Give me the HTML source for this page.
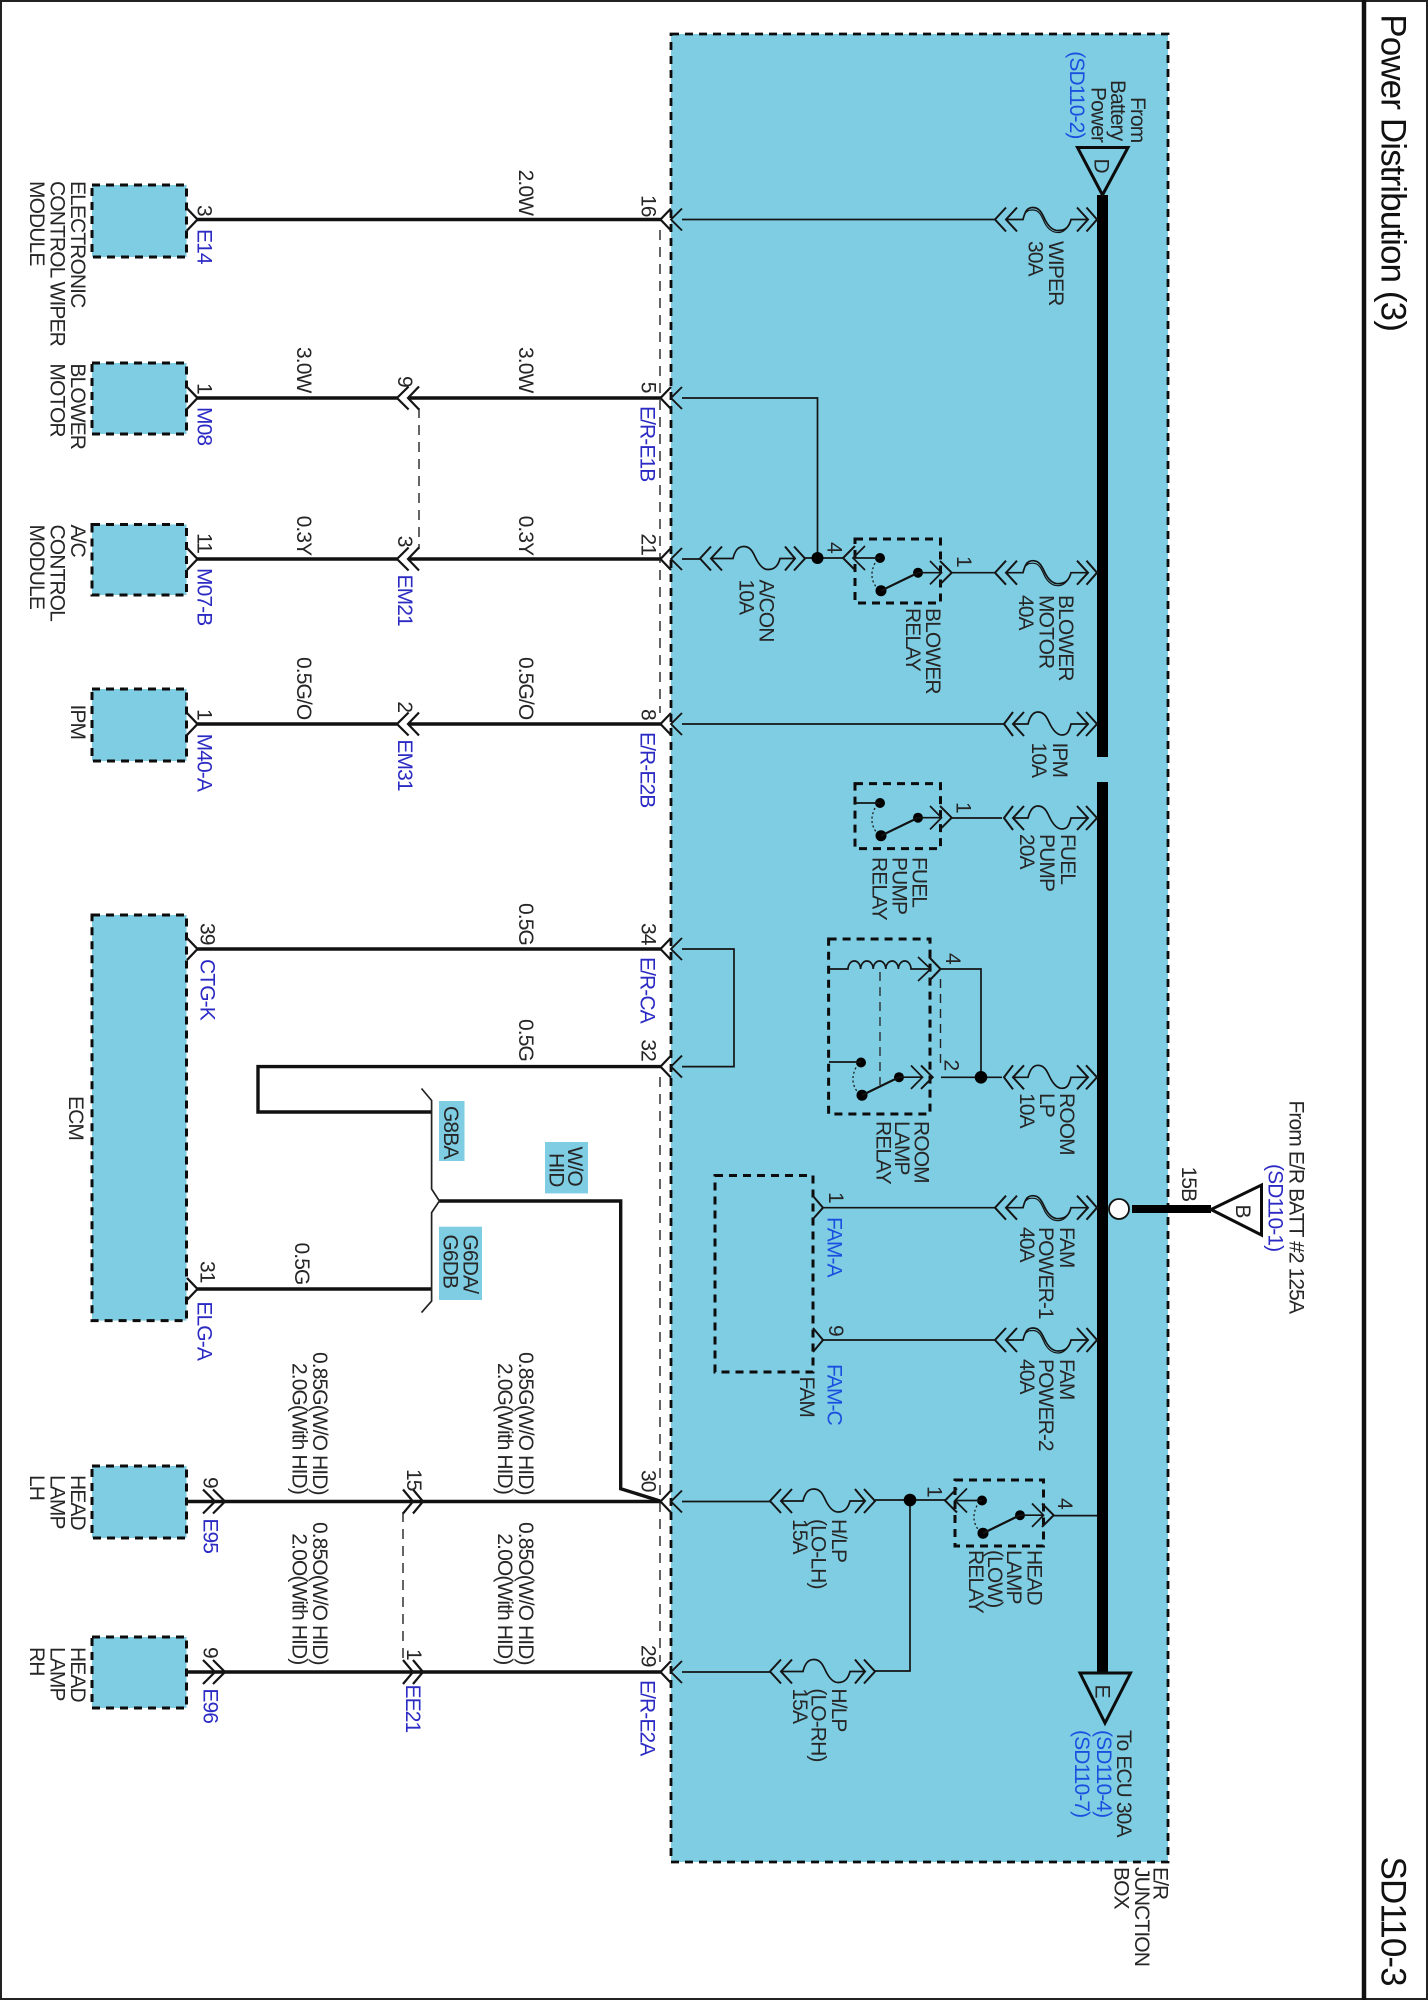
<!DOCTYPE html>
<html><head><meta charset="utf-8"><title>Power Distribution (3)</title>
<style>
html,body{margin:0;padding:0;background:#fff}
svg{display:block}
text{font-family:"Liberation Sans",sans-serif;font-size:21px;letter-spacing:-0.9px;fill:#262626}
.b{fill:#2b2bc4}.c{fill:#1a4fe0}
text.T{font-size:35px;letter-spacing:-0.9px;fill:#111}
.k{fill:none;stroke:#141414;stroke-width:1.7}
.h{fill:none;stroke:#111;stroke-width:3.4}
.d{fill:none;stroke:#222;stroke-width:1.4;stroke-dasharray:10 7}
.x{fill:#7ecde3;stroke:#0c0c0c;stroke-width:3;stroke-dasharray:8 6}
</style></head><body>
<svg width="1428" height="2000" viewBox="0 0 1428 2000" xmlns="http://www.w3.org/2000/svg">
<defs>
<g id="jr" class="k"><path d="M671,-11L660.5,0L671,11" stroke-width="2.2"/><path d="M682,-11L671,0L682,11" stroke-width="1.9"/></g>
<g id="cl" class="k"><path d="M408.6,-11.5L397,0L408.6,11.5" stroke-width="2.2"/><path d="M419,-11.5L408,0L419,11.5" stroke-width="2.2"/></g>
<g id="cr" class="k"><path d="M403,-12L413,0L403,12" stroke-width="2.2"/><path d="M413,-12L423,0L413,12" stroke-width="2.2"/></g>
<path id="lp" class="k" style="stroke-width:2.3" d="M187,-11L197.5,0L187,11"/>
<path id="hr" class="k" style="stroke-width:2.2" d="M203,-12L215,0L203,12M213,-12L225,0L213,12"/>
<g id="fb" class="k"><path d="M11,-12L0,0L11,12M22,-12L11,0L22,12M82,-12L93,0L82,12M91.5,-12L102,0L91.5,12" stroke-width="2"/><path d="M11,0H28C30,-8 32,-12 38,-12C46,-12 48,-3 51,2C55,9 59,11 63,11C70,11 74,8 76,0H93"/><path d="M31,-7C33,-9.500 35,-9.500 38,-9.500C45,-9.500 47,-2 50,4C54,11 59,13 63,13C69,13 73,8 75,3" stroke-width="1.2"/></g>
<g id="fs" class="k"><path d="M9,-12L0,0L9,12M20,-12L9,0L20,12M73,-12L84,0L73,12M82,-12L93,0L82,12" stroke-width="2"/><path d="M9,0H24C26,-8 29,-12 34,-12C42,-12 44,-3 47,2C51,9 55,11 58,11C63,11 65,8 67,0H84"/></g>
<g id="fa" class="k"><path d="M11,-12L0,0L11,12M22,-12L11,0L22,12M85,-12L95,0L85,12M94,-12L105,0L94,12" stroke-width="2"/><path d="M11,0H33C35,-8 38,-12 44,-12C52,-12 54,-3 57,2C61,9 65,11 68,11C74,11 78,8 80,0H95"/></g>
<g id="sw">
<path d="M875,563Q868,577 877,588" fill="none" stroke="#1a1a1a" stroke-width="1.3" stroke-dasharray="2 2.5"/>
<circle cx="880" cy="558" r="5" fill="#000"/><circle cx="918" cy="572.7" r="5" fill="#000"/><circle cx="881" cy="590.7" r="5.5" fill="#000"/>
<path d="M918,572.7L881,590.7" stroke="#111" stroke-width="2.2"/>
<path class="k" d="M918,572.7H941M930,561L941.5,572.7L930,584.4"/><path class="k" style="stroke-width:2" d="M940,561L951.7,572.7L940,584.4"/>
</g>
<g id="sl" class="k"><path d="M855,-12L843,0L855,12" stroke-width="2"/><path d="M865,-12L853,0L865,12M853,0H880"/></g>
</defs>

<!-- frame -->
<rect x="1" y="1" width="1426" height="1998" fill="#fff" stroke="#222" stroke-width="2"/>
<path d="M1364,0V2000" stroke="#111" stroke-width="4.5"/>

<!-- big box -->
<rect x="671" y="34" width="497" height="1828" fill="#7ecde3" stroke="#0c0c0c" stroke-width="2.8" stroke-dasharray="8 6"/>

<!-- left boxes -->
<rect class="x" x="92" y="185" width="94.5" height="72"/>
<rect class="x" x="92" y="363" width="94.5" height="71"/>
<rect class="x" x="92" y="524.5" width="94.5" height="70.5"/>
<rect class="x" x="92" y="689" width="94.5" height="72"/>
<rect class="x" x="92" y="915" width="94.5" height="405.6"/>
<rect class="x" x="92" y="1466" width="94.5" height="72"/>
<rect class="x" x="92" y="1637" width="94.5" height="71"/>

<!-- thick wires -->
<path class="h" d="M197,219.500H661M197,398H397M408,398H661M197,559H397M408,559H661M197,724H397M408,724H661M197,949H661"/>
<path class="h" d="M661,1066.6H258V1112H431.6"/>
<path class="h" d="M197,1289H431.6"/>
<path class="h" d="M439.4,1201H620.7V1488.7L660,1501"/>
<path class="h" d="M186,1501.5H225M403,1501.5H661"/>
<path class="h" d="M186,1672H225M403,1672H661"/>
<path class="h" d="M225,1501.5H403M225,1672H403"/>
<path d="M421.5,1088.5L431.6,1100.5V1189L439.4,1201L431.6,1212.6V1301L421.5,1312.6" fill="none" stroke="#222" stroke-width="1.7"/>

<!-- dashed links -->
<path class="d" d="M660,230V713M660,1077V1662M419,408V549M403,1512V1662"/>

<!-- connectors -->
<use href="#jr" y="219.500"/><use href="#jr" y="398"/><use href="#jr" y="559"/><use href="#jr" y="724"/><use href="#jr" y="949"/><use href="#jr" y="1066.6"/><use href="#jr" y="1501.5"/><use href="#jr" y="1672"/>
<use href="#cl" y="398"/><use href="#cl" y="559"/><use href="#cl" y="724"/>
<use href="#cr" y="1501.5"/><use href="#cr" y="1672"/>
<use href="#lp" y="219.500"/><use href="#lp" y="398"/><use href="#lp" y="559"/><use href="#lp" y="724"/><use href="#lp" y="949"/><use href="#lp" y="1289"/>
<use href="#hr" y="1501.5"/><use href="#hr" y="1672"/>

<!-- bus -->
<path d="M1102.5,195V757M1102.5,782V1673" stroke="#000" stroke-width="11"/>
<path d="M1077.5,147.5H1128L1102.5,195Z" fill="none" stroke="#0c0c0c" stroke-width="3"/>
<path d="M1080,1673H1130.5L1105,1723Z" fill="none" stroke="#0c0c0c" stroke-width="3"/>
<path d="M1132,1209H1211" stroke="#000" stroke-width="8"/>
<path d="M1261.5,1185V1235L1211,1209.5Z" fill="none" stroke="#0c0c0c" stroke-width="3"/>
<circle cx="1119" cy="1209" r="10" fill="#fff" stroke="#111" stroke-width="1.8"/>

<!-- thin wires in box -->
<path class="k" d="M682,219.500H995M682,398H817.5V558M682,559H700M805,558H843M951.7,572.7H995M682,724H1004M951.7,818H1002M682,949H734V1066.6H682M941,969H981V1077.3M941,1077.3H1002M823,1207.7H995M823,1340H995M682,1501.5H770M875,1500H945M910,1500V1671H875M682,1672H770M1054,1515.6H1097"/>
<path d="M940.5,979V1067" fill="none" stroke="#222" stroke-width="1.4" stroke-dasharray="9 6"/>
<circle cx="817.5" cy="558" r="6" fill="#000"/><circle cx="981" cy="1077.3" r="6.3" fill="#000"/><circle cx="910" cy="1500" r="6.3" fill="#000"/>

<!-- fuses -->
<use href="#fb" x="995" y="219.500"/><use href="#fb" x="995" y="572.7"/><use href="#fs" x="1004" y="724"/><use href="#fs" x="1004" y="818"/><use href="#fs" x="1004" y="1077.3"/><use href="#fb" x="995" y="1207.7"/><use href="#fb" x="995" y="1340"/>
<use href="#fa" x="700" y="558.5"/><use href="#fa" x="770" y="1501"/><use href="#fa" x="770" y="1671.5"/>

<!-- relays -->
<rect x="855" y="539" width="85.5" height="64" fill="none" stroke="#0c0c0c" stroke-width="3" stroke-dasharray="8 6"/>
<use href="#sw"/><use href="#sl" y="558"/>
<rect x="855" y="783.6" width="85.5" height="65" fill="none" stroke="#0c0c0c" stroke-width="3" stroke-dasharray="8 6"/>
<use href="#sw" y="245"/><path class="k" d="M855,803H880"/>
<rect x="955" y="1480" width="88.5" height="66" fill="none" stroke="#0c0c0c" stroke-width="3" stroke-dasharray="8 6"/>
<use href="#sw" x="102" y="942.5"/><use href="#sl" x="102" y="1500.5"/>
<rect x="828.6" y="939" width="101.4" height="175" fill="none" stroke="#0c0c0c" stroke-width="3" stroke-dasharray="8 6"/>
<use href="#sw" x="-19" y="504.5"/>
<path class="k" d="M829,1062H861M829,969H848a6.3,8 0 0 1 12.6,0a6.3,8 0 0 1 12.6,0a6.3,8 0 0 1 12.6,0a6.3,8 0 0 1 12.6,0a6.3,8 0 0 1 12.6,0H930M918,957L930.7,969L918,981"/>
<path class="k" style="stroke-width:2" d="M929,957L940.5,969L929,981"/>
<path d="M880,972V1085" fill="none" stroke="#222" stroke-width="1.3" stroke-dasharray="9 6"/>
<rect x="715" y="1175.5" width="98" height="196.5" fill="none" stroke="#0c0c0c" stroke-width="3" stroke-dasharray="8 6"/>
<path class="k" style="stroke-width:2" d="M813,1196L823,1207.7L813,1219M813,1328L823,1340L813,1352"/>

<!-- tag boxes -->
<rect x="439" y="1101" width="25.5" height="60" fill="#7ecde3"/>
<rect x="439" y="1226.7" width="43" height="73.3" fill="#7ecde3"/>
<rect x="545" y="1142" width="43" height="51.4" fill="#7ecde3"/>

<!-- text -->
<text class="T" transform="translate(1381.5 14.3)rotate(90)">Power Distribution (3)</text>
<text class="T" transform="translate(1381.5 1856.5)rotate(90)">SD110-3</text>

<text transform="translate(71 181)rotate(90)">ELECTRONIC</text>
<text transform="translate(50.5 181)rotate(90)">CONTROL WIPER</text>
<text transform="translate(30 181)rotate(90)">MODULE</text>
<text transform="translate(71 363.4)rotate(90)">BLOWER</text>
<text transform="translate(50.5 363.4)rotate(90)">MOTOR</text>
<text transform="translate(71 524.5)rotate(90)">A/C</text>
<text transform="translate(50.5 524.5)rotate(90)">CONTROL</text>
<text transform="translate(30 524.5)rotate(90)">MODULE</text>
<text transform="translate(71 704.5)rotate(90)">IPM</text>
<text transform="translate(69 1096)rotate(90)">ECM</text>
<text transform="translate(71 1475)rotate(90)">HEAD</text>
<text transform="translate(50.5 1475)rotate(90)">LAMP</text>
<text transform="translate(30 1475)rotate(90)">LH</text>
<text transform="translate(71 1647)rotate(90)">HEAD</text>
<text transform="translate(50.5 1647)rotate(90)">LAMP</text>
<text transform="translate(30 1647)rotate(90)">RH</text>

<text transform="translate(197.4 205)rotate(90)">3</text>
<text class="b" transform="translate(197.4 229)rotate(90)">E14</text>
<text transform="translate(197.4 383)rotate(90)">1</text>
<text class="b" transform="translate(197.4 407)rotate(90)">M08</text>
<text transform="translate(197.4 533)rotate(90)">11</text>
<text class="b" transform="translate(197.4 568)rotate(90)">M07-B</text>
<text transform="translate(197.4 709)rotate(90)">1</text>
<text class="b" transform="translate(197.4 733.6)rotate(90)">M40-A</text>
<text transform="translate(200.6 923)rotate(90)">39</text>
<text class="b" transform="translate(200.6 959)rotate(90)">CTG-K</text>
<text transform="translate(200.6 1261)rotate(90)">31</text>
<text class="b" transform="translate(197.4 1301.4)rotate(90)">ELG-A</text>
<text transform="translate(203.4 1477)rotate(90)">9</text>
<text class="b" transform="translate(203.4 1518.4)rotate(90)">E95</text>
<text transform="translate(203.4 1647)rotate(90)">9</text>
<text class="b" transform="translate(203.4 1688.4)rotate(90)">E96</text>

<text transform="translate(519 169.6)rotate(90)">2.0W</text>
<text transform="translate(641.4 195)rotate(90)">16</text>
<text transform="translate(519 347)rotate(90)">3.0W</text>
<text transform="translate(297 347)rotate(90)">3.0W</text>
<text transform="translate(398 376)rotate(90)">9</text>
<text transform="translate(641.4 381.7)rotate(90)">5</text>
<text class="b" transform="translate(640.5 406)rotate(90)">E/R-E1B</text>
<text transform="translate(519 515.6)rotate(90)">0.3Y</text>
<text transform="translate(297 515.6)rotate(90)">0.3Y</text>
<text transform="translate(398 535.7)rotate(90)">3</text>
<text class="b" transform="translate(398 574.5)rotate(90)">EM21</text>
<text transform="translate(641.4 533.5)rotate(90)">21</text>
<text transform="translate(519 657)rotate(90)">0.5G/O</text>
<text transform="translate(297 657)rotate(90)">0.5G/O</text>
<text transform="translate(398 701.4)rotate(90)">2</text>
<text class="b" transform="translate(398 739.4)rotate(90)">EM31</text>
<text transform="translate(641.4 709)rotate(90)">8</text>
<text class="b" transform="translate(640.5 732)rotate(90)">E/R-E2B</text>
<text transform="translate(519 903)rotate(90)">0.5G</text>
<text transform="translate(641.4 923)rotate(90)">34</text>
<text class="b" transform="translate(640.5 957)rotate(90)">E/R-CA</text>
<text transform="translate(519 1019)rotate(90)">0.5G</text>
<text transform="translate(641.4 1039.4)rotate(90)">32</text>
<text transform="translate(295 1242.5)rotate(90)">0.5G</text>
<text transform="translate(444 1106)rotate(90)">G8BA</text>
<text transform="translate(463.3 1234.5)rotate(90)">G6DA/</text>
<text transform="translate(443.3 1234.5)rotate(90)">G6DB</text>
<text transform="translate(568 1146.5)rotate(90)">W/O</text>
<text transform="translate(549.3 1153)rotate(90)">HID</text>

<text transform="translate(519 1352)rotate(90)">0.85G(W/O HID)</text>
<text transform="translate(498 1363)rotate(90)">2.0G(With HID)</text>
<text transform="translate(313 1352)rotate(90)">0.85G(W/O HID)</text>
<text transform="translate(292.5 1363)rotate(90)">2.0G(With HID)</text>
<text transform="translate(519 1522)rotate(90)">0.85O(W/O HID)</text>
<text transform="translate(498 1533.4)rotate(90)">2.0O(With HID)</text>
<text transform="translate(313 1522)rotate(90)">0.85O(W/O HID)</text>
<text transform="translate(292.5 1533.4)rotate(90)">2.0O(With HID)</text>
<text transform="translate(407 1469)rotate(90)">15</text>
<text transform="translate(407 1649)rotate(90)">1</text>
<text class="b" transform="translate(406 1684.5)rotate(90)">EE21</text>
<text transform="translate(641.4 1470)rotate(90)">30</text>
<text transform="translate(641.4 1645)rotate(90)">29</text>
<text class="b" transform="translate(640.5 1680)rotate(90)">E/R-E2A</text>

<text transform="translate(1130.8 97)rotate(90)">From</text>
<text transform="translate(1111 80)rotate(90)">Battery</text>
<text transform="translate(1091.4 87)rotate(90)">Power</text>
<text class="c" transform="translate(1070 51.3)rotate(90)">(SD110-2)</text>
<text transform="translate(1094.6 158.5)rotate(90)">D</text>
<text transform="translate(1049 241)rotate(90)">WIPER</text>
<text transform="translate(1028.7 241)rotate(90)">30A</text>
<text transform="translate(759.4 579.5)rotate(90)">A/CON</text>
<text transform="translate(739.5 579.5)rotate(90)">10A</text>
<text transform="translate(926 608)rotate(90)">BLOWER</text>
<text transform="translate(906 608)rotate(90)">RELAY</text>
<text transform="translate(1059 595)rotate(90)">BLOWER</text>
<text transform="translate(1039.3 595)rotate(90)">MOTOR</text>
<text transform="translate(1019 595)rotate(90)">40A</text>
<text transform="translate(827.7 542)rotate(90)">4</text>
<text transform="translate(957 556)rotate(90)">1</text>
<text transform="translate(1052.8 742.5)rotate(90)">IPM</text>
<text transform="translate(1032 742.5)rotate(90)">10A</text>
<text transform="translate(956.7 802)rotate(90)">1</text>
<text transform="translate(1061 834)rotate(90)">FUEL</text>
<text transform="translate(1040 834)rotate(90)">PUMP</text>
<text transform="translate(1020 834)rotate(90)">20A</text>
<text transform="translate(912.6 857)rotate(90)">FUEL</text>
<text transform="translate(892.7 857)rotate(90)">PUMP</text>
<text transform="translate(872.7 857)rotate(90)">RELAY</text>
<text transform="translate(946 953)rotate(90)">4</text>
<text transform="translate(944.7 1059.5)rotate(90)">2</text>
<text transform="translate(1059.8 1093)rotate(90)">ROOM</text>
<text transform="translate(1040 1093)rotate(90)">LP</text>
<text transform="translate(1020 1093)rotate(90)">10A</text>
<text transform="translate(914.5 1121)rotate(90)">ROOM</text>
<text transform="translate(895 1121)rotate(90)">LAMP</text>
<text transform="translate(876.4 1121)rotate(90)">RELAY</text>
<text transform="translate(829 1192)rotate(90)">1</text>
<text class="c" transform="translate(827.7 1217)rotate(90)">FAM-A</text>
<text transform="translate(1059.8 1227)rotate(90)">FAM</text>
<text transform="translate(1039 1227)rotate(90)">POWER-1</text>
<text transform="translate(1020 1227)rotate(90)">40A</text>
<text transform="translate(829 1325)rotate(90)">9</text>
<text class="c" transform="translate(827.7 1364)rotate(90)">FAM-C</text>
<text transform="translate(800 1376.5)rotate(90)">FAM</text>
<text transform="translate(1059.8 1359)rotate(90)">FAM</text>
<text transform="translate(1039 1359)rotate(90)">POWER-2</text>
<text transform="translate(1020 1359)rotate(90)">40A</text>
<text transform="translate(1289.6 1100.5)rotate(90)">From E/R BATT #2 125A</text>
<text class="b" transform="translate(1268.7 1164)rotate(90)">(SD110-1)</text>
<text transform="translate(1182 1166.6)rotate(90)">15B</text>
<text transform="translate(1236 1204.5)rotate(90)">B</text>
<text transform="translate(832 1519)rotate(90)">H/LP</text>
<text transform="translate(811.4 1519)rotate(90)">(LO-LH)</text>
<text transform="translate(793 1519)rotate(90)">15A</text>
<text transform="translate(832 1688.4)rotate(90)">H/LP</text>
<text transform="translate(811.4 1688.4)rotate(90)">(LO-RH)</text>
<text transform="translate(793 1688.4)rotate(90)">15A</text>
<text transform="translate(1027.3 1550)rotate(90)">HEAD</text>
<text transform="translate(1007 1550)rotate(90)">LAMP</text>
<text transform="translate(988 1550)rotate(90)">(LOW)</text>
<text transform="translate(969 1550)rotate(90)">RELAY</text>
<text transform="translate(1058 1498)rotate(90)">4</text>
<text transform="translate(927.500 1486)rotate(90)">1</text>
<text transform="translate(1095.5 1684.5)rotate(90)">E</text>
<text transform="translate(1117 1730)rotate(90)">To ECU 30A</text>
<text class="c" transform="translate(1097 1730)rotate(90)">(SD110-4)</text>
<text class="c" transform="translate(1075 1730)rotate(90)">(SD110-7)</text>
<text transform="translate(1153.6 1867)rotate(90)">E/R</text>
<text transform="translate(1135 1867)rotate(90)">JUNCTION</text>
<text transform="translate(1114.6 1867)rotate(90)">BOX</text>
</svg>
</body></html>
